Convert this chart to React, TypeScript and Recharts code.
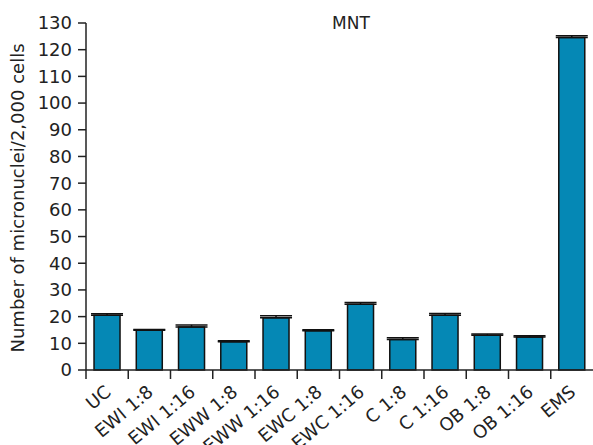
import { BarChart, Bar, XAxis, YAxis, ErrorBar } from "recharts";

const categories = ["UC", "EWI 1:8", "EWI 1:16", "EWW 1:8", "EWW 1:16", "EWC 1:8", "EWC 1:16", "C 1:8", "C 1:16", "OB 1:8", "OB 1:16", "EMS"];
const means = [20.5, 14.9, 16.1, 10.6, 19.6, 14.7, 24.6, 11.4, 20.5, 13.0, 12.4, 124.6];
const errors = [0.6, 0.3, 0.8, 0.4, 0.7, 0.4, 0.7, 0.7, 0.7, 0.5, 0.4, 0.6];
const yTicks = [0, 10, 20, 30, 40, 50, 60, 70, 80, 90, 100, 110, 120, 130];

const data = categories.map((name, i) => ({
  name,
  value: means[i],
  err: [0, errors[i]],
}));

const FONT = "DejaVu Sans";
const INK = "#222";
const BAND = 507 / categories.length;

const XTick = (props: any) => {
  const { x, y, payload } = props;
  const bx = x - BAND / 2;
  const tx = x + 5;
  const ty = y + 16;
  return (
    <g>
      <line x1={bx} y1={y - 8} x2={bx} y2={y + 1} stroke={INK} strokeWidth={1.5} />
      <text
        x={tx}
        y={ty}
        textAnchor="end"
        fontSize={18}
        fontFamily={FONT}
        fill={INK}
        transform={`rotate(-40, ${tx}, ${ty})`}
      >
        {payload.value}
      </text>
    </g>
  );
};

export default function App() {
  return (
    <div style={{ position: "absolute", left: 0, top: 0, background: "#fff" }}>
      <BarChart
        width={593}
        height={445}
        data={data}
        margin={{ top: 23, right: 0, bottom: 0, left: 0 }}
        barCategoryGap="19%"
      >
        <XAxis
          dataKey="name"
          interval={0}
          tickLine={false}
          axisLine={{ stroke: INK, strokeWidth: 1.5 }}
          tick={<XTick />}
          height={75}
        />
        <YAxis
          domain={[0, 130]}
          ticks={yTicks}
          interval={0}
          width={86}
          tickSize={8}
          tickMargin={6}
          tickLine={{ stroke: INK, strokeWidth: 1.5 }}
          axisLine={{ stroke: INK, strokeWidth: 1.5 }}
          tick={{ fontSize: 18, fontFamily: FONT, fill: INK }}
        />
        <Bar dataKey="value" fill="#0588b5" stroke="#111" strokeWidth={1.5} isAnimationActive={false}>
          <ErrorBar dataKey="err" width={16} stroke="#111" strokeWidth={1.5} direction="y" />
        </Bar>
        <text
          x={24}
          y={198}
          textAnchor="middle"
          fontSize={18}
          fontFamily={FONT}
          fill={INK}
          transform="rotate(-90, 24, 198)"
        >
          Number of micronuclei/2,000 cells
        </text>
        <text x={351} y={29} textAnchor="middle" fontSize={17} fontFamily={FONT} fill={INK}>
          MNT
        </text>
      </BarChart>
    </div>
  );
}
